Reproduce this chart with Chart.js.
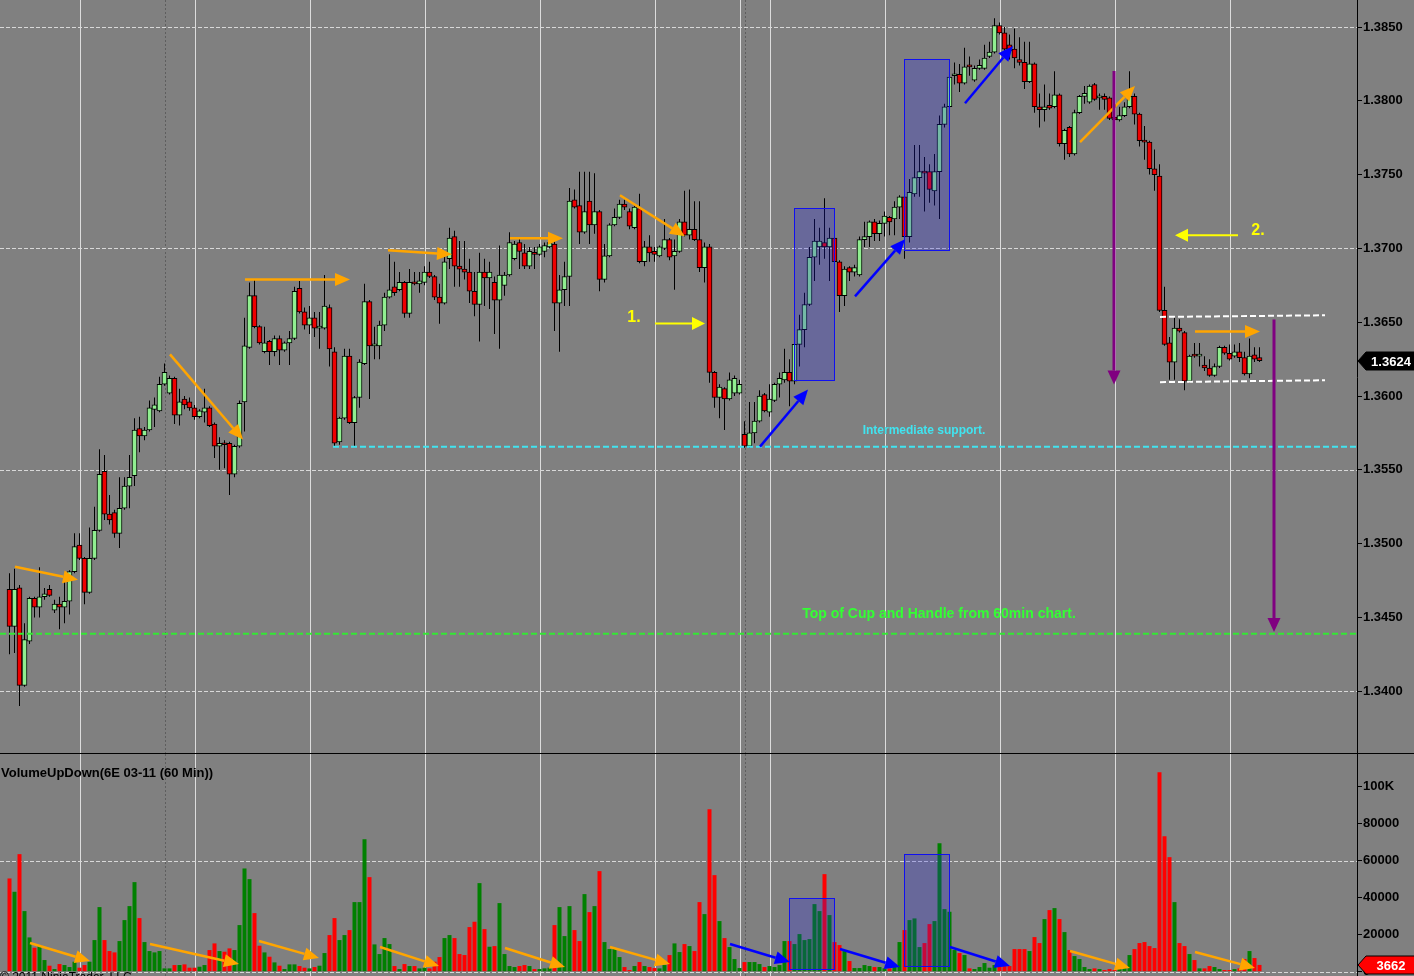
<!DOCTYPE html>
<html>
<head>
<meta charset="utf-8">
<script src="https://cdn.jsdelivr.net/npm/chart.js@4"></script>
<style>
  body { margin: 0; background: #808080; overflow: hidden; }
  #wrap { position: relative; width: 1414px; height: 976px; }
  canvas { position: absolute; left: 0; }
</style>
</head>
<body>
<div id="wrap">
  <canvas id="priceCanvas" width="1414" height="754" style="top:0"></canvas>
  <canvas id="volCanvas" width="1414" height="222" style="top:754px"></canvas>
</div>
<script>
// 6E 03-11, 60 min bars (one bar per index)
const opens = [
  1.3469,1.3444,1.3470,1.3404,1.3434,1.3463,1.3457,1.3464,1.3469,1.3455,
  1.3459,1.3457,1.3461,1.3481,1.3499,1.3490,1.3467,1.3490,1.3509,1.3549,
  1.3520,1.3521,1.3507,1.3524,1.3539,1.3546,1.3578,1.3573,1.3577,1.3591,
  1.3590,1.3608,1.3602,1.3612,1.3587,1.3598,1.3596,1.3592,1.3586,1.3589,
  1.3592,1.3581,1.3566,1.3568,1.3568,1.3547,1.3566,1.3596,1.3633,1.3668,
  1.3647,1.3630,1.3637,1.3630,1.3639,1.3631,1.3636,1.3639,1.3673,1.3657,
  1.3648,1.3653,1.3646,1.3646,1.3660,1.3630,1.3569,1.3585,1.3627,1.3582,
  1.3599,1.3622,1.3664,1.3634,1.3634,1.3648,1.3667,1.3674,1.3672,1.3677,
  1.3656,1.3677,1.3676,1.3677,1.3684,1.3681,1.3667,1.3663,1.3693,1.3708,
  1.3688,1.3686,1.3684,1.3671,1.3662,1.3684,1.3680,1.3677,1.3665,1.3675,
  1.3682,1.3693,1.3704,1.3697,1.3688,1.3697,1.3696,1.3698,1.3701,1.3703,
  1.3663,1.3672,1.3681,1.3733,1.3729,1.3711,1.3732,1.3716,1.3725,1.3679,
  1.3695,1.3716,1.3721,1.3730,1.3725,1.3714,1.3727,1.3691,1.3701,1.3698,
  1.3695,1.3700,1.3706,1.3695,1.3698,1.3718,1.3709,1.3713,1.3706,1.3687,
  1.3701,1.3616,1.3599,1.3605,1.3598,1.3602,1.3602,1.3574,1.3566,1.3575,
  1.3583,1.3601,1.3589,1.3597,1.3608,1.3611,1.3616,1.3610,1.3635,1.3645,
  1.3662,1.3694,1.3701,1.3704,1.3701,1.3707,1.3691,1.3668,1.3687,1.3684,
  1.3682,1.3706,1.3708,1.3718,1.3710,1.3717,1.3721,1.3720,1.3728,1.3735,
  1.3708,1.3737,1.3748,1.3752,1.3752,1.3739,1.3752,1.3784,1.3796,1.3817,
  1.3818,1.3812,1.3824,1.3814,1.3822,1.3822,1.3830,1.3833,1.3851,1.3846,
  1.3838,1.3835,1.3828,1.3826,1.3813,1.3825,1.3796,1.3794,1.3797,1.3796,
  1.3804,1.3771,1.3782,1.3764,1.3792,1.3803,1.3799,1.3811,1.3802,1.3803,
  1.3802,1.3789,1.3787,1.3790,1.3796,1.3803,1.3791,1.3773,1.3772,1.3754,
  1.3749,1.3658,1.3636,1.3623,1.3646,1.3643,1.3610,1.3628,1.3627,1.3621,
  1.3619,1.3614,1.3620,1.3633,1.3629,1.3627,1.3630,1.3626,1.3615,1.3628,
  1.3626
];
const highs = [
  1.3480,1.3483,1.3472,1.3446,1.3464,1.3464,1.3484,1.3470,1.3472,1.3462,
  1.3464,1.3475,1.3482,1.3507,1.3507,1.3491,1.3511,1.3525,1.3564,1.3560,
  1.3533,1.3523,1.3545,1.3545,1.3560,1.3585,1.3586,1.3579,1.3597,1.3599,
  1.3613,1.3622,1.3614,1.3613,1.3605,1.3600,1.3599,1.3594,1.3591,1.3605,
  1.3593,1.3582,1.3572,1.3570,1.3569,1.3567,1.3597,1.3653,1.3677,1.3679,
  1.3648,1.3647,1.3638,1.3641,1.3641,1.3637,1.3644,1.3674,1.3678,1.3660,
  1.3661,1.3657,1.3657,1.3682,1.3662,1.3633,1.3586,1.3632,1.3632,1.3600,
  1.3625,1.3676,1.3665,1.3647,1.3651,1.3670,1.3696,1.3691,1.3684,1.3678,
  1.3686,1.3684,1.3684,1.3688,1.3691,1.3682,1.3676,1.3697,1.3714,1.3712,
  1.3705,1.3705,1.3693,1.3684,1.3697,1.3693,1.3691,1.3681,1.3702,1.3684,
  1.3711,1.3705,1.3707,1.3703,1.3701,1.3701,1.3703,1.3704,1.3707,1.3705,
  1.3682,1.3691,1.3741,1.3740,1.3752,1.3752,1.3752,1.3751,1.3726,1.3703,
  1.3717,1.3727,1.3733,1.3733,1.3727,1.3729,1.3737,1.3705,1.3709,1.3701,
  1.3702,1.3720,1.3707,1.3706,1.3720,1.3739,1.3740,1.3732,1.3732,1.3704,
  1.3703,1.3617,1.3608,1.3606,1.3616,1.3614,1.3611,1.3583,1.3596,1.3596,
  1.3604,1.3602,1.3608,1.3609,1.3616,1.3632,1.3625,1.3638,1.3655,1.3670,
  1.3701,1.3720,1.3714,1.3734,1.3714,1.3708,1.3692,1.3688,1.3688,1.3689,
  1.3708,1.3718,1.3719,1.3720,1.3719,1.3725,1.3722,1.3732,1.3736,1.3736,
  1.3747,1.3770,1.3770,1.3762,1.3757,1.3764,1.3790,1.3798,1.3828,1.3826,
  1.3825,1.3836,1.3830,1.3824,1.3828,1.3838,1.3840,1.3856,1.3853,1.3850,
  1.3845,1.3849,1.3843,1.3840,1.3840,1.3826,1.3805,1.3811,1.3805,1.3820,
  1.3805,1.3781,1.3783,1.3794,1.3804,1.3810,1.3811,1.3812,1.3805,1.3805,
  1.3803,1.3796,1.3796,1.3799,1.3820,1.3805,1.3792,1.3783,1.3773,1.3767,
  1.3757,1.3674,1.3640,1.3654,1.3652,1.3644,1.3628,1.3636,1.3636,1.3627,
  1.3625,1.3622,1.3634,1.3634,1.3635,1.3635,1.3636,1.3630,1.3639,1.3633,
  1.3633
];
const lows = [
  1.3425,1.3426,1.3390,1.3403,1.3432,1.3450,1.3450,1.3462,1.3464,1.3453,
  1.3442,1.3446,1.3452,1.3480,1.3489,1.3459,1.3466,1.3489,1.3508,1.3516,
  1.3513,1.3504,1.3497,1.3523,1.3524,1.3539,1.3562,1.3570,1.3576,1.3579,
  1.3589,1.3607,1.3601,1.3581,1.3580,1.3591,1.3590,1.3584,1.3585,1.3582,
  1.3579,1.3558,1.3550,1.3551,1.3533,1.3545,1.3565,1.3576,1.3632,1.3646,
  1.3635,1.3629,1.3621,1.3627,1.3621,1.3630,1.3621,1.3638,1.3656,1.3645,
  1.3642,1.3640,1.3632,1.3645,1.3620,1.3566,1.3567,1.3584,1.3581,1.3566,
  1.3592,1.3621,1.3598,1.3625,1.3625,1.3644,1.3666,1.3668,1.3671,1.3653,
  1.3653,1.3675,1.3670,1.3675,1.3680,1.3665,1.3649,1.3662,1.3686,1.3674,
  1.3674,1.3679,1.3663,1.3654,1.3637,1.3661,1.3659,1.3642,1.3632,1.3668,
  1.3681,1.3692,1.3686,1.3686,1.3686,1.3686,1.3695,1.3694,1.3700,1.3644,
  1.3630,1.3661,1.3661,1.3727,1.3703,1.3710,1.3703,1.3710,1.3671,1.3677,
  1.3694,1.3715,1.3720,1.3726,1.3713,1.3713,1.3690,1.3688,1.3691,1.3691,
  1.3694,1.3699,1.3692,1.3672,1.3697,1.3708,1.3706,1.3705,1.3684,1.3677,
  1.3609,1.3592,1.3585,1.3577,1.3597,1.3600,1.3601,1.3565,1.3565,1.3568,
  1.3582,1.3589,1.3586,1.3596,1.3599,1.3609,1.3593,1.3608,1.3620,1.3633,
  1.3661,1.3678,1.3689,1.3693,1.3678,1.3688,1.3657,1.3661,1.3678,1.3681,
  1.3681,1.3701,1.3701,1.3705,1.3705,1.3708,1.3709,1.3709,1.3720,1.3693,
  1.3704,1.3735,1.3735,1.3725,1.3731,1.3729,1.3720,1.3782,1.3791,1.3811,
  1.3806,1.3811,1.3817,1.3813,1.3821,1.3821,1.3829,1.3832,1.3845,1.3834,
  1.3828,1.3822,1.3824,1.3808,1.3812,1.3792,1.3782,1.3786,1.3794,1.3795,
  1.3769,1.3760,1.3762,1.3763,1.3791,1.3798,1.3798,1.3800,1.3794,1.3794,
  1.3787,1.3784,1.3786,1.3789,1.3795,1.3784,1.3769,1.3760,1.3750,1.3739,
  1.3657,1.3634,1.3611,1.3611,1.3643,1.3604,1.3609,1.3626,1.3620,1.3617,
  1.3613,1.3613,1.3619,1.3628,1.3624,1.3626,1.3623,1.3614,1.3612,1.3623,
  1.3623
];
const closes = [
  1.3444,1.3469,1.3404,1.3435,1.3463,1.3457,1.3464,1.3466,1.3465,1.3459,
  1.3457,1.3461,1.3481,1.3498,1.3490,1.3467,1.3490,1.3509,1.3547,1.3520,
  1.3516,1.3507,1.3524,1.3539,1.3545,1.3577,1.3573,1.3577,1.3592,1.3594,
  1.3608,1.3616,1.3612,1.3587,1.3596,1.3594,1.3592,1.3586,1.3590,1.3592,
  1.3580,1.3566,1.3568,1.3567,1.3547,1.3566,1.3595,1.3634,1.3668,1.3647,
  1.3636,1.3636,1.3630,1.3639,1.3631,1.3636,1.3639,1.3671,1.3657,1.3648,
  1.3653,1.3646,1.3647,1.3661,1.3632,1.3568,1.3585,1.3627,1.3582,1.3599,
  1.3623,1.3664,1.3634,1.3635,1.3648,1.3667,1.3672,1.3670,1.3677,1.3656,
  1.3677,1.3676,1.3678,1.3684,1.3681,1.3667,1.3663,1.3691,1.3707,1.3688,
  1.3686,1.3684,1.3671,1.3662,1.3684,1.3680,1.3684,1.3665,1.3682,1.3682,
  1.3704,1.3703,1.3698,1.3688,1.3698,1.3696,1.3701,1.3702,1.3704,1.3663,
  1.3672,1.3681,1.3732,1.3728,1.3711,1.3725,1.3716,1.3725,1.3679,1.3695,
  1.3716,1.3721,1.3730,1.3728,1.3715,1.3728,1.3691,1.3701,1.3697,1.3696,
  1.3701,1.3706,1.3694,1.3698,1.3718,1.3709,1.3713,1.3706,1.3687,1.3701,
  1.3616,1.3599,1.3606,1.3598,1.3611,1.3612,1.3608,1.3566,1.3575,1.3583,
  1.3600,1.3590,1.3598,1.3608,1.3612,1.3616,1.3610,1.3635,1.3645,1.3662,
  1.3694,1.3705,1.3705,1.3701,1.3707,1.3691,1.3668,1.3686,1.3684,1.3687,
  1.3706,1.3708,1.3718,1.3710,1.3717,1.3722,1.3718,1.3728,1.3735,1.3708,
  1.3738,1.3748,1.3752,1.3751,1.3740,1.3752,1.3784,1.3796,1.3816,1.3818,
  1.3812,1.3823,1.3823,1.3822,1.3824,1.3829,1.3833,1.3851,1.3846,1.3835,
  1.3834,1.3829,1.3826,1.3813,1.3825,1.3796,1.3794,1.3796,1.3795,1.3804,
  1.3771,1.3780,1.3764,1.3792,1.3803,1.3805,1.3810,1.3801,1.3803,1.3801,
  1.3788,1.3787,1.3790,1.3796,1.3803,1.3791,1.3773,1.3772,1.3754,1.3750,
  1.3658,1.3635,1.3623,1.3646,1.3644,1.3610,1.3627,1.3627,1.3628,1.3619,
  1.3614,1.3620,1.3633,1.3629,1.3625,1.3630,1.3626,1.3615,1.3627,1.3625,
  1.3624
];
const volumes = [
  50400,43200,63540,32760,18540,12960,14400,6300,3240,1440,
  4140,3600,2520,5400,2160,3600,5400,17100,34920,17100,
  11160,10440,16560,27900,35460,48420,28980,16020,11160,10440,
  11160,1800,1800,3600,3600,3960,2160,2160,2700,3600,
  11700,15300,11160,10800,12600,11700,25200,55800,50040,31680,
  14040,10440,8100,5040,3240,1440,3960,3960,3060,2160,
  1800,2520,3240,10080,19800,28980,17100,19800,22500,37620,
  37620,71640,51120,14760,9540,18180,14940,3060,1440,4140,
  3060,3060,1800,2160,1800,5400,7920,18180,19800,18180,
  9540,9000,24120,27000,47880,23040,13500,13860,37080,9540,
  3060,2520,3060,3600,3060,1440,1440,1800,2160,25200,
  34920,19260,35460,22500,16560,41940,32220,35460,54360,16020,
  12240,12240,7920,2520,900,3060,5220,3060,2520,1980,
  1800,3600,9000,15300,10620,14940,13860,11160,37620,31140,
  87840,52200,27360,18180,13320,6840,1980,5220,5220,5220,
  4140,2520,3060,2520,3600,16560,16560,14940,20340,17100,
  17640,36540,32760,52740,30600,16020,14400,11160,5760,1980,
  1980,3600,3060,2520,2520,1800,1800,3600,16020,22500,
  27900,28800,13320,15480,25740,27360,69480,33840,32400,11700,
  10080,9000,1800,1440,2520,4680,2160,3600,3240,3060,
  3060,12240,12240,12240,11160,18720,15480,28440,33300,34380,
  28440,21420,11700,8460,6840,2520,1440,1800,1440,900,
  1440,900,1440,2160,9000,12240,15480,16020,13860,12780,
  107820,73260,61920,37620,15480,13860,9540,6300,1800,1800,
  3060,2520,1440,900,900,1440,1800,6840,11160,7380,
  3662
];

// axis ticks
const priceTicks = [1.3400, 1.3450, 1.3500, 1.3550, 1.3600, 1.3650, 1.3700, 1.3750, 1.3800, 1.3850];
const volumeTicks = [0, 20000, 40000, 60000, 80000, 100000];

// bar index of the daily grid lines and of the two session breaks
const dayLines = [14, 37, 60, 83, 106, 129, 146, 152, 175, 198, 221, 244];
const sessionLines = [31, 147];

// drawings on the price panel: [startIndex, startPrice, endIndex, endPrice]
const orangeArrows = [
  [1.1, 1.34843, 13.7, 1.34755],
  [32.1, 1.36282, 46.7, 1.35705],
  [47.1, 1.36790, 68.1, 1.36790],
  [75.7, 1.36987, 88.5, 1.36960],
  [100.1, 1.37069, 110.7, 1.37069],
  [122.1, 1.37360, 135.1, 1.37082],
  [214.1, 1.37720, 225.1, 1.38100],
  [237.1, 1.36438, 250.1, 1.36438]
];
const blueArrows = [
  [150.1, 1.35657, 159.7, 1.36044],
  [169.1, 1.36675, 179.1, 1.37062],
  [191.1, 1.37984, 200.7, 1.38371]
];
const yellowArrows = [
  [129.1, 1.36492, 139.1, 1.36492],
  [245.7, 1.37089, 233.1, 1.37089]
];
const yellowLabels = [['1.', 124.9, 1.36533], ['2.', 249.7, 1.37123]];
const purpleArrows = [
  [220.9, 1.38202, 220.9, 1.36078],
  [252.9, 1.36519, 252.9, 1.34402]
];
const priceBoxes = [
  [156.9, 1.37272, 164.9, 1.36112],
  [178.9, 1.38283, 187.9, 1.36987]
];
const rangeRails = [
  [230.1, 1.36536, 263.1, 1.36547],
  [230.1, 1.36094, 263.1, 1.36107]
];
const supportLevel = 1.35657, supportStart = 64.7;
const cupLevel = 1.34389;

// drawings on the volume panel: [startIndex, startVol, endIndex, endVol]
const volOrangeArrows = [
  [4.1, 15510, 16.1, 5780],
  [28.1, 14970, 45.9, 4160],
  [49.9, 16590, 61.9, 7400],
  [74.1, 13350, 85.9, 3080],
  [99.1, 12810, 111.1, 2540],
  [120.1, 13350, 132.1, 4160],
  [212.1, 11190, 224.1, 2000],
  [237.1, 10650, 249.1, 2000]
];
const volBlueArrows = [
  [144.1, 14970, 156.1, 5240],
  [166.1, 12270, 178.1, 2540],
  [188.1, 13350, 200.1, 3080]
];
const volBoxes = [
  [155.9, 39670, 164.9, 1300],
  [178.9, 63450, 187.9, 2900]
];

const UP_BODY = '#90EE90', DOWN_BODY = '#EE0000';
const UP_VOL = '#008000', DOWN_VOL = '#FF0000';
const AXIS_FONT = {family: 'Arial, "Liberation Sans"', size: 13, weight: 'bold'};
const X_MIN = -1.9, X_MAX = 269.5;

const idx = opens.map((_, i) => i);
const isUp = idx.map(i => closes[i] >= opens[i]);

function arrow(ctx, x1, y1, x2, y2, color, lw, hl, hw) {
  const a = Math.atan2(y2 - y1, x2 - x1);
  const bx = x2 - hl * Math.cos(a), by = y2 - hl * Math.sin(a);
  ctx.save();
  ctx.strokeStyle = color;
  ctx.fillStyle = color;
  ctx.lineWidth = lw;
  ctx.beginPath();
  ctx.moveTo(x1, y1);
  ctx.lineTo(bx, by);
  ctx.stroke();
  ctx.beginPath();
  ctx.moveTo(x2, y2);
  ctx.lineTo(bx + hw / 2 * Math.sin(a), by - hw / 2 * Math.cos(a));
  ctx.lineTo(bx - hw / 2 * Math.sin(a), by + hw / 2 * Math.cos(a));
  ctx.closePath();
  ctx.fill();
  ctx.restore();
}

function dashed(ctx, x1, y1, x2, y2, color, lw, dash) {
  ctx.save();
  ctx.strokeStyle = color;
  ctx.lineWidth = lw;
  ctx.setLineDash(dash);
  ctx.beginPath();
  ctx.moveTo(x1, y1);
  ctx.lineTo(x2, y2);
  ctx.stroke();
  ctx.restore();
}

// grid shared by both panels: day lines, session breaks, every third tick dashed
function drawGrid(chart) {
  const {ctx, chartArea, scales: {x, y}} = chart;
  ctx.save();
  dayLines.forEach(i => {
    const px = Math.round(x.getPixelForValue(i)) + 0.5;
    ctx.strokeStyle = '#DCDCDC';
    ctx.lineWidth = 1;
    ctx.beginPath();
    ctx.moveTo(px, chartArea.top);
    ctx.lineTo(px, chartArea.bottom);
    ctx.stroke();
  });
  sessionLines.forEach(i => {
    const px = Math.round(x.getPixelForValue(i)) + 0.5;
    dashed(ctx, px, chartArea.top, px, chartArea.bottom, '#5E5E5E', 1, [2, 2]);
  });
  y.ticks.forEach((t, k) => {
    if (k % 3 !== 0) return;
    const py = Math.round(y.getPixelForValue(t.value)) + 0.5;
    dashed(ctx, chartArea.left, py, chartArea.right, py, '#D8D8D8', 1, [4, 2]);
  });
  ctx.restore();
}

function valueTag(ctx, xLeft, yMid, text, fill, textColor) {
  const h = 18, w = 50, tip = 8;
  ctx.save();
  ctx.fillStyle = fill;
  ctx.strokeStyle = '#000';
  ctx.beginPath();
  ctx.moveTo(xLeft + 1, yMid);
  ctx.lineTo(xLeft + 1 + tip, yMid - h / 2);
  ctx.lineTo(xLeft + 1 + tip + w, yMid - h / 2);
  ctx.lineTo(xLeft + 1 + tip + w, yMid + h / 2);
  ctx.lineTo(xLeft + 1 + tip, yMid + h / 2);
  ctx.closePath();
  ctx.fill();
  ctx.stroke();
  ctx.fillStyle = textColor;
  ctx.font = 'bold 13px Arial, "Liberation Sans"';
  ctx.textAlign = 'center';
  ctx.textBaseline = 'middle';
  ctx.fillText(text, xLeft + 1 + tip + w / 2, yMid + 1);
  ctx.restore();
}

const pricePlugin = {
  id: 'priceDrawings',
  beforeDatasetsDraw(chart) {
    drawGrid(chart);
  },
  afterDatasetsDraw(chart) {
    const {ctx, chartArea, scales: {x, y}} = chart;
    const X = v => x.getPixelForValue(v), Y = v => y.getPixelForValue(v);

    priceBoxes.forEach(b => {
      const x1 = Math.round(X(b[0])) + 0.5, x2 = Math.round(X(b[2])) + 0.5;
      const y1 = Math.round(Y(b[1])) + 0.5, y2 = Math.round(Y(b[3])) + 0.5;
      ctx.save();
      ctx.fillStyle = 'rgba(30,30,230,0.25)';
      ctx.fillRect(x1, y1, x2 - x1, y2 - y1);
      ctx.strokeStyle = '#1010F0';
      ctx.lineWidth = 1;
      ctx.strokeRect(x1, y1, x2 - x1, y2 - y1);
      ctx.restore();
    });

    // support / target levels
    dashed(ctx, X(supportStart), Y(supportLevel), chartArea.right, Y(supportLevel), '#40E4F0', 2, [6, 3]);
    dashed(ctx, chartArea.left, Y(cupLevel), chartArea.right, Y(cupLevel), '#33E833', 2, [6, 3]);
    rangeRails.forEach(r => dashed(ctx, X(r[0]), Y(r[1]), X(r[2]), Y(r[3]), '#FFFFFF', 2, [6, 3]));

    orangeArrows.forEach(a => arrow(ctx, X(a[0]), Y(a[1]), X(a[2]), Y(a[3]), '#FFA500', 2.5, 15, 13));
    blueArrows.forEach(a => arrow(ctx, X(a[0]), Y(a[1]), X(a[2]), Y(a[3]), '#0000FF', 2.5, 15, 13));
    yellowArrows.forEach(a => arrow(ctx, X(a[0]), Y(a[1]), X(a[2]), Y(a[3]), '#FFFF00', 2, 13, 13));
    purpleArrows.forEach(a => arrow(ctx, X(a[0]), Y(a[1]), X(a[2]), Y(a[3]), '#800080', 3, 14, 13));

    ctx.save();
    ctx.textAlign = 'center';
    ctx.textBaseline = 'middle';
    ctx.fillStyle = '#FFFF00';
    ctx.font = 'bold 16px Arial, "Liberation Sans"';
    yellowLabels.forEach(l => ctx.fillText(l[0], X(l[1]), Y(l[2])));
    ctx.fillStyle = '#40E4F0';
    ctx.font = 'bold 12px Arial, "Liberation Sans"';
    ctx.fillText('Intermediate support.', X(182.9), Y(1.35766));
    ctx.fillStyle = '#33FF33';
    ctx.font = 'bold 14px Arial, "Liberation Sans"';
    ctx.fillText('Top of Cup and Handle from 60min chart.', X(185.9), Y(1.34525));
    ctx.restore();
  },
  afterDraw(chart) {
    const {ctx, chartArea, scales: {y}} = chart;
    const last = closes[closes.length - 1];
    valueTag(ctx, chartArea.right, Math.round(y.getPixelForValue(last)), last.toFixed(4), '#000', '#FFF');
    ctx.save();
    ctx.fillStyle = '#000';
    ctx.fillRect(0, chart.height - 1, chart.width, 1);
    ctx.restore();
  }
};

const volPlugin = {
  id: 'volDrawings',
  beforeDatasetsDraw(chart) {
    drawGrid(chart);
  },
  afterDatasetsDraw(chart) {
    const {ctx, scales: {x, y}} = chart;
    const X = v => x.getPixelForValue(v), Y = v => y.getPixelForValue(v);
    volBoxes.forEach(b => {
      const x1 = Math.round(X(b[0])) + 0.5, x2 = Math.round(X(b[2])) + 0.5;
      const y1 = Math.round(Y(b[1])) + 0.5, y2 = Math.round(Y(b[3])) + 0.5;
      ctx.save();
      ctx.fillStyle = 'rgba(30,30,230,0.25)';
      ctx.fillRect(x1, y1, x2 - x1, y2 - y1);
      ctx.strokeStyle = '#1010F0';
      ctx.strokeRect(x1, y1, x2 - x1, y2 - y1);
      ctx.restore();
    });
    volOrangeArrows.forEach(a => arrow(ctx, X(a[0]), Y(a[1]), X(a[2]), Y(a[3]), '#FFA500', 2.5, 15, 13));
    volBlueArrows.forEach(a => arrow(ctx, X(a[0]), Y(a[1]), X(a[2]), Y(a[3]), '#0000FF', 2.5, 15, 13));

    ctx.save();
    ctx.fillStyle = '#000';
    ctx.font = 'bold 13px Arial, "Liberation Sans"';
    ctx.textAlign = 'left';
    ctx.textBaseline = 'middle';
    ctx.fillText('VolumeUpDown(6E 03-11 (60 Min))', 1, 19);
    ctx.font = '12px Arial, "Liberation Sans"';
    ctx.textBaseline = 'top';
    ctx.fillText('\u00A9 2011 NinjaTrader, LLC', 0, 218);
    ctx.restore();
  },
  afterDraw(chart) {
    const {ctx, chartArea, scales: {y}} = chart;
    const last = volumes[volumes.length - 1];
    valueTag(ctx, chartArea.right, Math.round(y.getPixelForValue(last)), String(last), '#FF0000', '#FFF');
  }
};

function rightAxis(min, max, tickValues, fmt) {
  return {
    position: 'right',
    min: min,
    max: max,
    afterBuildTicks: s => { s.ticks = tickValues.map(v => ({value: v})); },
    ticks: {color: '#000', font: AXIS_FONT, padding: 1, callback: fmt},
    grid: {drawOnChartArea: false, drawTicks: true, tickLength: 5, tickColor: '#000'},
    border: {color: '#000', width: 1},
    afterFit: s => { s.width = 57; s.paddingTop = 0; s.paddingBottom = 0; }
  };
}

new Chart(document.getElementById('priceCanvas'), {
  type: 'bar',
  data: {
    datasets: [
      {
        data: idx.map(i => ({x: i, y: [opens[i], closes[i]]})),
        backgroundColor: idx.map(i => isUp[i] ? UP_BODY : DOWN_BODY),
        borderColor: '#000',
        borderWidth: 1,
        borderSkipped: false,
        barThickness: 5,
        minBarLength: 2,
        grouped: false,
        order: 1
      },
      {
        data: idx.map(i => ({x: i, y: [lows[i], highs[i]]})),
        backgroundColor: '#000',
        borderWidth: 0,
        barThickness: 1,
        inflateAmount: 0,
        grouped: false,
        order: 2
      }
    ]
  },
  options: {
    responsive: false,
    animation: false,
    layout: {padding: 0},
    plugins: {legend: {display: false}, tooltip: {enabled: false}},
    scales: {
      x: {type: 'linear', min: X_MIN, max: X_MAX, display: false, offset: false},
      y: rightAxis(1.33575, 1.38683, priceTicks, v => Number(v).toFixed(4))
    }
  },
  plugins: [pricePlugin]
});

new Chart(document.getElementById('volCanvas'), {
  type: 'bar',
  data: {
    datasets: [{
      data: idx.map(i => ({x: i, y: volumes[i]})),
      backgroundColor: idx.map(i => isUp[i] ? UP_VOL : DOWN_VOL),
      borderWidth: 0,
      barThickness: 4,
      inflateAmount: 0,
      grouped: false
    }]
  },
  options: {
    responsive: false,
    animation: false,
    layout: {padding: 0},
    plugins: {legend: {display: false}, tooltip: {enabled: false}},
    scales: {
      x: {type: 'linear', min: X_MIN, max: X_MAX, display: false, offset: false},
      y: rightAxis(-2324, 117670, volumeTicks, v => v >= 100000 ? (v / 1000) + 'K' : String(v))
    }
  },
  plugins: [volPlugin]
});
</script>
</body>
</html>
